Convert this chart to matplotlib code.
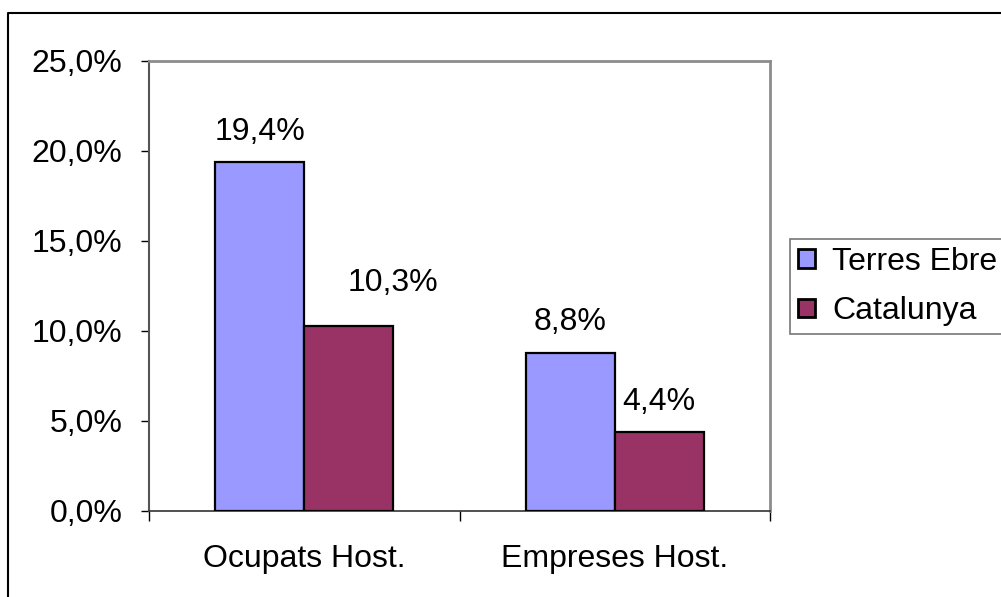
import numpy as np
import matplotlib.pyplot as plt
from matplotlib.lines import Line2D

# data
categories = ['Ocupats Host.', 'Empreses Host.']
series_names = ['Terres Ebre', 'Catalunya']
terres_ebre = [19.4, 8.8]
catalunya = [10.3, 4.4]
y_ticks = [0, 5, 10, 15, 20, 25]

plt.rcParams['font.family'] = ['Liberation Sans', 'DejaVu Sans']
fs = 23

fig = plt.figure(figsize=(10.01, 5.97), dpi=100)
W, H = 1001, 597
ax = fig.add_axes([149 / W, 1 - 511 / H, (770 - 149) / W, (511 - 61) / H])

x = np.arange(len(categories))
w = 89 / 310.5
colors = ['#9999ff', '#993366']

for si, (vals, off, c, name) in enumerate([(terres_ebre, -w / 2, colors[0], series_names[0]),
                                           (catalunya, w / 2, colors[1], series_names[1])]):
    bars = ax.bar(x + off, vals, width=w, color=c, edgecolor='black',
                  linewidth=1.6, label=name, zorder=3)
    for ci, (b, v) in enumerate(zip(bars, vals)):
        # the Catalunya label on the first group sits a bit up and to the right
        dx, dy = (32, 20) if (si, ci) == (1, 0) else (0, 11)
        ax.annotate(('%.1f%%' % v).replace('.', ','),
                    (b.get_x() + b.get_width() / 2, v),
                    xytext=(dx, dy), textcoords='offset points',
                    ha='center', va='bottom', fontsize=fs)

ax.set_xlim(-0.5, 1.5)
ax.set_ylim(0, 25)
ax.set_yticks(y_ticks)
ax.set_yticklabels([('%.1f%%' % t).replace('.', ',') for t in y_ticks], fontsize=fs)
ax.tick_params(axis='y', direction='out', length=6, width=1, pad=13, colors='black')

ax.set_xticks(x)
ax.set_xticklabels(categories, fontsize=fs)
ax.set_xticks([-0.5, 0.5, 1.5], minor=True)
ax.tick_params(axis='x', which='major', length=0, pad=24)
ax.tick_params(axis='x', which='minor', direction='out', length=7, width=1)

for s in ['top', 'right']:
    ax.spines[s].set_color('#8c8c8c')
    ax.spines[s].set_linewidth(2)
ax.spines['left'].set_color('#555555')
ax.spines['left'].set_linewidth(1.5)
ax.spines['bottom'].set_color('#333333')
ax.spines['bottom'].set_linewidth(1.2)

leg = fig.legend(loc='upper left', bbox_to_anchor=(790 / W, 1 - 239 / H),
                 fontsize=fs, frameon=True, fancybox=False, borderaxespad=0,
                 handlelength=0.52, handleheight=0.52, handletextpad=0.55,
                 borderpad=0.25, labelspacing=0.6)
leg.get_frame().set_edgecolor('#555555')
leg.get_frame().set_linewidth(1.2)
for h in leg.legend_handles:
    h.set_linewidth(2)

# outer chart border (clipped on the right and bottom)
fig.add_artist(Line2D([8 / W, 8 / W, 1.0], [0, 1 - 13 / H, 1 - 13 / H],
                      transform=fig.transFigure, color='black', linewidth=1.5))

fig.savefig('out.png', dpi=100)
